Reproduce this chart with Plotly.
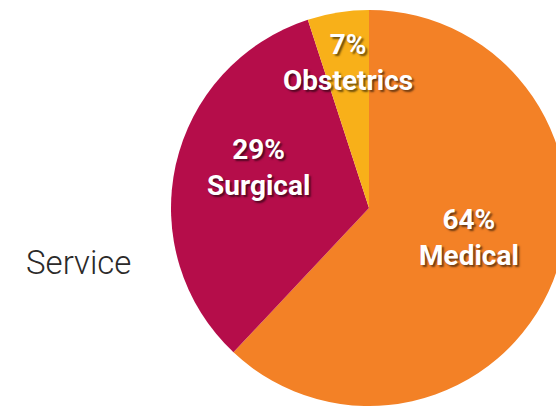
import plotly.graph_objects as go

# Data (slice sizes as drawn; labels as printed)
services = ["Medical", "Surgical", "Obstetrics"]
drawn_share = [62, 33, 5]
printed_pct = ["64%", "29%", "7%"]
colors = ["#F38126", "#B50D4A", "#F8B019"]

W, H = 570, 406
# pie placement in pixels (center x, center y from top, radius)
cx, cy, r = 369, 208, 198

# label block centers in pixels
label_px = [(469, 238), (258, 167), (348, 62)]

fig = go.Figure(go.Pie(
    labels=services,
    values=drawn_share,
    sort=False,
    direction="clockwise",
    rotation=0,
    marker=dict(colors=colors, line=dict(width=0)),
    textinfo="none",
    hoverinfo="skip",
    showlegend=False,
    domain=dict(x=[(cx - r) / W, (cx + r) / W],
                y=[1 - (cy + r) / H, 1 - (cy - r) / H]),
))

annotations = []
for (px, py), pct, name in zip(label_px, printed_pct, services):
    annotations.append(dict(
        x=px / W, y=1 - py / H, xref="paper", yref="paper",
        xanchor="center", yanchor="middle", showarrow=False,
        text=f"{pct}<br>{name}",
        font=dict(family="Roboto, sans-serif", weight=700,
                  size=28, color="white",
                  shadow="2px 2px 2px rgba(0,0,0,0.55)"),
    ))

annotations.append(dict(
    x=79 / W, y=1 - 262 / H, xref="paper", yref="paper",
    xanchor="center", yanchor="middle", showarrow=False,
    text="Service",
    font=dict(family="Roboto, sans-serif", weight=300,
              size=33, color="#2B2A29"),
))

fig.update_layout(
    width=W, height=H,
    margin=dict(l=0, r=0, t=0, b=0),
    paper_bgcolor="white",
    plot_bgcolor="white",
    annotations=annotations,
)

fig.write_html(
    "out.html",
    config={"displayModeBar": False},
    post_script="document.body.style.margin='0';document.body.style.overflow='hidden';document.documentElement.style.overflow='hidden';",
)
